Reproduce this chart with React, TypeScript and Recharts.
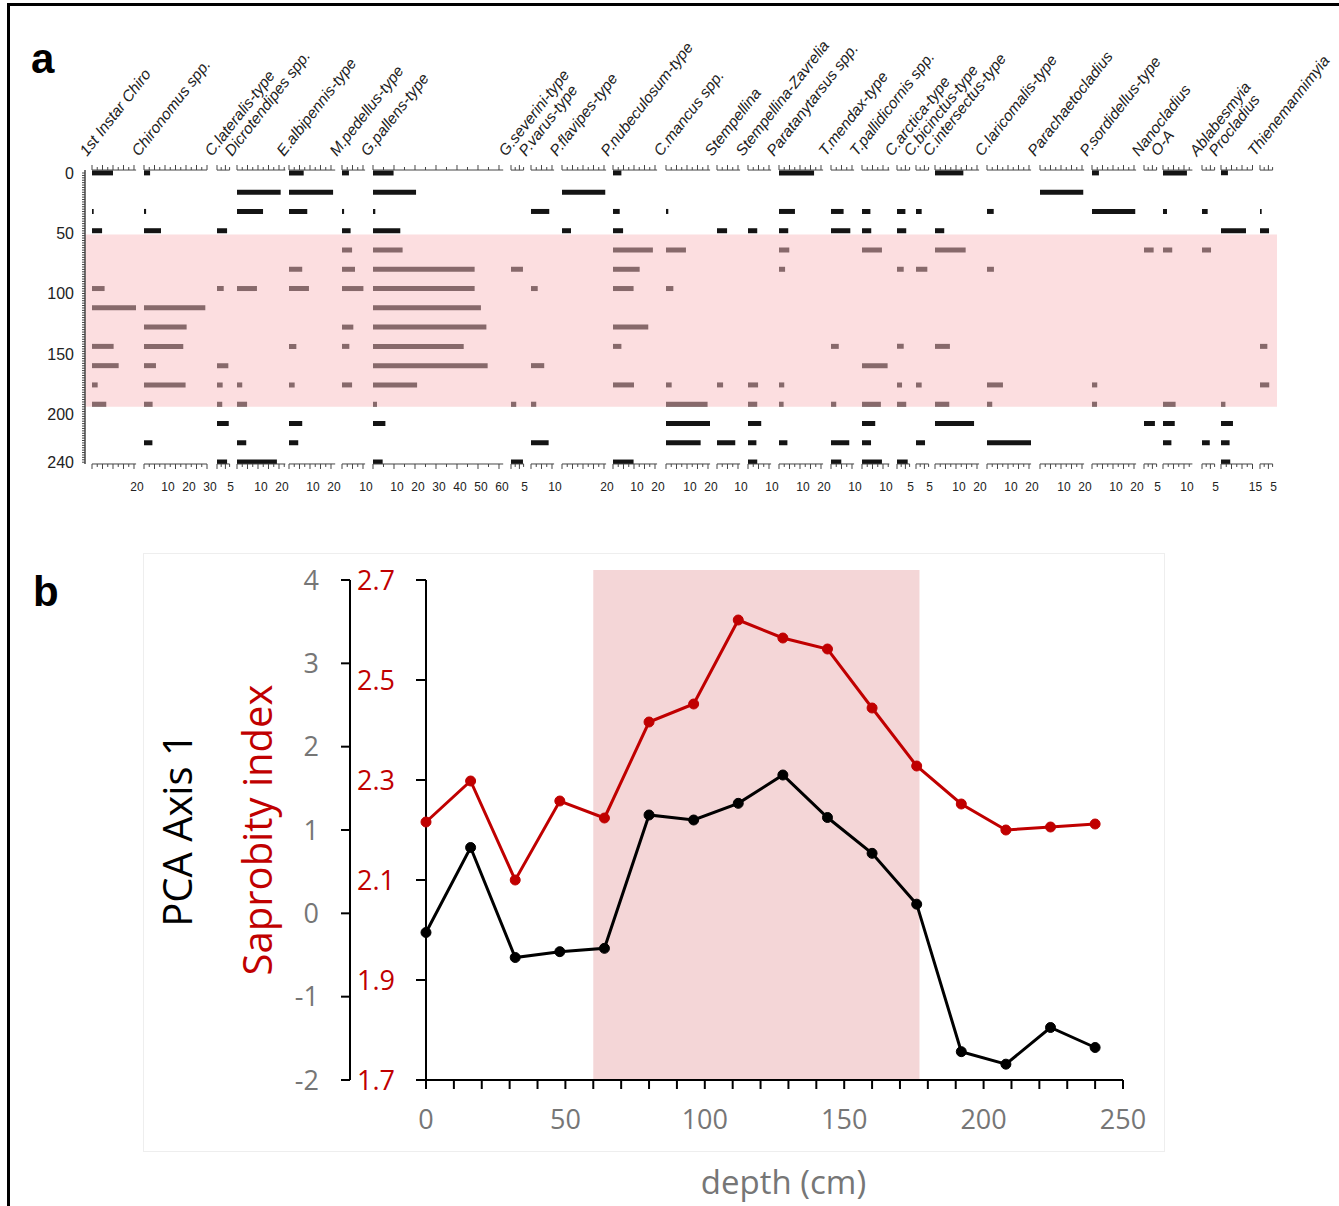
import { ComposedChart, Bar, XAxis, YAxis, ReferenceArea, LineChart, Line } from 'recharts'

const SANS = '"Liberation Sans", Arial, sans-serif'
const SOFT = '"Open Sans", "Noto Sans", sans-serif'
const RED = '#c00000'
const GRAY = '#767676'

// ---- panel a: chironomid stratigraphy (% abundance per sample depth) ----
const DEPTHS = [0, 16, 32, 48, 64, 80, 96, 112, 128, 144, 160, 176, 192, 208, 224, 240]

const firstInstarChiro = [10, 0, 0.8, 4.8, 0, 0, 6, 21, 0, 10.3, 12.7, 2.7, 6.8, 0, 0, 0]
const chironomus = [2.9, 0, 1, 8.1, 0, 0, 0, 29.2, 20.3, 18.7, 5.7, 19.8, 4.1, 0, 4, 0]
const cLateralis = [0, 0, 0, 4.8, 0, 0, 3.2, 0, 0, 0, 5.4, 2.7, 2.5, 5.6, 0, 4.8]
const dicrotendipes = [0, 20.8, 12.4, 0, 0, 0, 9.5, 0, 0, 0, 0, 2.5, 4.8, 0, 4.4, 19]
const eAlbipennis = [7, 21, 8.7, 0, 0, 6.3, 9.5, 0, 0, 3.5, 0, 2.7, 0, 6.3, 4.4, 0]
const mPedellus = [3.3, 0, 1, 4.1, 4.8, 6.2, 10.2, 0, 5.4, 3.5, 0, 4.8, 0, 0, 0, 0]
const gPallens = [9.8, 20.5, 1.1, 13, 14.1, 48.4, 48.4, 51.4, 54, 43.2, 54.6, 21, 1.9, 5.9, 0, 4.6]
const gSeverini = [0, 0, 0, 0, 0, 5.7, 0, 0, 0, 0, 0, 0, 2.5, 0, 0, 5.7]
const pVarus = [0, 0, 8.7, 0, 0, 0, 3.2, 0, 0, 0, 6.3, 0, 2.5, 0, 8.4, 0]
const pFlavipes = [0, 20.6, 0, 4.3, 0, 0, 0, 0, 0, 0, 0, 0, 0, 0, 0, 0]
const pNubeculosum = [4, 0, 3.2, 4.8, 19, 12.7, 9.8, 0, 16.8, 4, 0, 10, 0, 0, 0, 9.8]
const cMancus = [0, 0, 1.1, 0, 9.5, 0, 3.5, 0, 0, 0, 0, 2.7, 19.8, 21, 16.5, 0]
const stempellina = [0, 0, 0, 4.8, 0, 0, 0, 0, 0, 0, 0, 2.9, 0, 0, 8.7, 0]
const stempellinaZavrelia = [0, 0, 0, 4.4, 0, 0, 0, 0, 0, 0, 0, 4.8, 4.4, 6.3, 4, 4.4]
const paratanytarsus = [16.7, 0, 7.6, 4.4, 4.9, 2.9, 0, 0, 0, 0, 0, 2.5, 2.2, 0, 4, 0]
const tMendax = [0, 0, 6, 9.2, 0, 0, 0, 0, 0, 3.7, 0, 0, 2.5, 0, 8.7, 4.9]
const tPallidicornis = [0, 0, 4, 4.4, 9.5, 0, 0, 0, 0, 0, 12.2, 0, 9, 6.3, 4.3, 9.5]
const cArctica = [0, 0, 4, 4.4, 0, 3.2, 0, 0, 0, 3.2, 0, 2.4, 4.4, 0, 0, 5.1]
const cBicinctus = [0, 0, 2.7, 0, 0, 5.4, 0, 0, 0, 0, 0, 2.7, 0, 0, 4.3, 0]
const cIntersectus = [13.5, 0, 0, 4.4, 14.6, 0, 0, 0, 0, 7.1, 0, 0, 6.8, 18.6, 0, 0]
const cLaricomalis = [0, 0, 3.2, 0, 0, 3.3, 0, 0, 0, 0, 0, 7.6, 2.5, 0, 21.1, 0]
const parachaetocladius = [0, 20.6, 0, 0, 0, 0, 0, 0, 0, 0, 0, 0, 0, 0, 0, 0]
const pSordidellus = [3.3, 0, 20.6, 0, 0, 0, 0, 0, 0, 0, 0, 2.5, 2.4, 0, 0, 0]
const nanocladius = [0, 0, 0, 0, 4.6, 0, 0, 0, 0, 0, 0, 0, 0, 5.2, 0, 0]
const oA = [11.4, 0, 1.9, 0, 4.4, 0, 0, 0, 0, 0, 0, 0, 6, 5.6, 4, 0]
const ablabesmyia = [0, 0, 2.7, 0, 4.3, 0, 0, 0, 0, 0, 0, 0, 0, 0, 3.7, 0]
const procladius = [3.3, 0, 0, 11.9, 0, 0, 0, 0, 0, 0, 0, 0, 2.1, 5.7, 4.1, 4.4]
const thienemannimyia = [0, 0, 0.8, 4.3, 0, 0, 0, 0, 0, 3.5, 0, 4.4, 0, 0, 0, 0]

const TAXON_NAMES = [
  '1st Instar Chiro', 'Chironomus spp.', 'C.lateralis-type', 'Dicrotendipes spp.',
  'E.albipennis-type', 'M.pedellus-type', 'G.pallens-type', 'G.severini-type',
  'P.varus-type', 'P.flavipes-type', 'P.nubeculosum-type', 'C.mancus spp.',
  'Stempellina', 'Stempellina-Zavrelia', 'Paratanytarsus spp.', 'T.mendax-type',
  'T.pallidicornis spp.', 'C.arctica-type', 'C.bicinctus-type', 'C.intersectus-type',
  'C.laricomalis-type', 'Parachaetocladius', 'P.sordidellus-type', 'Nanocladius',
  'O-A', 'Ablabesmyia', 'Procladius', 'Thienemannimyia',
]
const TAXON_VALUES = [
  firstInstarChiro, chironomus, cLateralis, dicrotendipes, eAlbipennis, mPedellus,
  gPallens, gSeverini, pVarus, pFlavipes, pNubeculosum, cMancus, stempellina,
  stempellinaZavrelia, paratanytarsus, tMendax, tPallidicornis, cArctica, cBicinctus,
  cIntersectus, cLaricomalis, parachaetocladius, pSordidellus, nanocladius, oA,
  ablabesmyia, procladius, thienemannimyia,
]
// axis maximum (%) of each column and the tick labels printed under it
const TAXON_MAX = [21, 30, 6, 23, 22, 11, 62, 6, 11, 21, 21, 21, 11, 11, 21, 11, 13, 6, 6, 21, 21, 21, 21, 6, 14, 6, 15, 6]
const TAXON_TICK_LABELS = [
  [20], [10, 20, 30], [5], [10, 20], [10, 20], [10], [10, 20, 30, 40, 50, 60], [5],
  [10], [20], [10, 20], [10, 20], [10], [10], [10, 20], [10], [10], [5], [5],
  [10, 20], [10, 20], [10, 20], [10, 20], [5], [10], [5], [15], [5],
]
const DEPTH_TICK_LABELS = [0, 50, 100, 150, 200, 240]
const ZONE_A = [51, 194]

// ---- panel b: indices vs depth ----
const saprobityIndex = [2.216, 2.298, 2.1, 2.258, 2.224, 2.416, 2.452, 2.62, 2.584, 2.562, 2.444, 2.328, 2.252, 2.2, 2.206, 2.212]
const pcaAxis1 = [-0.23, 0.79, -0.53, -0.46, -0.42, 1.18, 1.12, 1.32, 1.66, 1.15, 0.72, 0.11, -1.66, -1.81, -1.37, -1.61]
const ZONE_B = [60, 177]
const SAP_TICKS = [1.7, 1.9, 2.1, 2.3, 2.5, 2.7]
const PCA_TICKS = [-2, -1, 0, 1, 2, 3, 4]

// layout of panel a
const COLUMN_LEFT = [91.7, 144, 217.3, 237.3, 289, 342, 373, 510.7, 530.7, 561.7, 613.3, 666, 717.3, 748.3, 779, 830.7, 861.7, 896.7, 916, 935, 987.3, 1040, 1092.3, 1144.3, 1163.3, 1201.7, 1220.7, 1260]
const PX_PER_PCT = 2.1
const PLOT_TOP = 170
const PLOT_H = 294
const DEPTH_DOMAIN: [number, number] = [-2.5, 241.5]

function TaxonColumn({ index }: { index: number }) {
  const max = TAXON_MAX[index]
  const labels = TAXON_TICK_LABELS[index]
  const name = TAXON_NAMES[index]
  const rows = DEPTHS.map((depth, i) => ({ depth, v: TAXON_VALUES[index][i] }))
  const step = max <= 8 ? 2 : max <= 30 ? 2.5 : 5
  const ticks: number[] = []
  for (let t = 0; t <= max + 1e-6; t += step) ticks.push(t)

  const topTick = (p: any) => {
    const v = p.payload.value
    const len = Math.round(v / step) % 2 === 0 ? 5 : 3
    return (
      <g>
        <line x1={p.x} x2={p.x} y1={p.y} y2={p.y - len} stroke="#444" strokeWidth={1} />
        {v === 0 && (
          <text
            x={p.x - 5}
            y={p.y - 13}
            transform={`rotate(-52, ${p.x - 5}, ${p.y - 13})`}
            fontSize={15.5}
            fontStyle="italic"
            fontFamily={SANS}
            fill="#222"
          >
            {name}
          </text>
        )}
      </g>
    )
  }
  const bottomTick = (p: any) => {
    const v = p.payload.value
    const len = Math.round(v / step) % 2 === 0 ? 5 : 3
    return <line x1={p.x} x2={p.x} y1={p.y} y2={p.y + len} stroke="#444" strokeWidth={1} />
  }
  const labelTick = (p: any) => (
    <text x={p.x + 3} y={p.y + 12} textAnchor="middle" fontSize={12} fontFamily={SANS} fill="#222">
      {p.payload.value}
    </text>
  )

  return (
    <div style={{ position: 'absolute', left: COLUMN_LEFT[index], top: PLOT_TOP - 8 }}>
      <ComposedChart
        layout="vertical"
        width={max * PX_PER_PCT + 2}
        height={PLOT_H + 8 + 30}
        data={rows}
        margin={{ top: 2, right: 2, bottom: 0, left: 0 }}
      >
        <XAxis xAxisId="top" orientation="top" type="number" domain={[0, max]} ticks={ticks}
          interval={0} height={6} tickSize={0} tickMargin={0} tickLine={false} tick={topTick}
          axisLine={{ stroke: '#444' }} allowDataOverflow />
        <XAxis xAxisId="bottom" orientation="bottom" type="number" domain={[0, max]} ticks={ticks}
          interval={0} height={15} tickSize={0} tickMargin={0} tickLine={false} tick={bottomTick}
          axisLine={{ stroke: '#444' }} allowDataOverflow />
        <XAxis xAxisId="labels" orientation="bottom" type="number" domain={[0, max]} ticks={labels}
          interval={0} height={15} tickSize={0} tickMargin={0} tickLine={false} tick={labelTick}
          axisLine={false} allowDataOverflow />
        <YAxis type="number" dataKey="depth" domain={DEPTH_DOMAIN} width={0}
          tick={false} tickLine={false} axisLine={{ stroke: '#444', strokeWidth: 1.5 }} allowDataOverflow />
        <Bar xAxisId="bottom" dataKey="v" barSize={5} fill="#141414" isAnimationActive={false} />
      </ComposedChart>
    </div>
  )
}

function DepthFrame() {
  const depthTicks: number[] = []
  for (let d = 0; d <= 240; d += 2) depthTicks.push(d)
  const rows = DEPTHS.map((depth) => ({ depth }))
  const tick = (p: any) =>
    DEPTH_TICK_LABELS.includes(p.payload.value) ? (
      <text x={p.x} y={p.y} dy="0.36em" textAnchor="end" fontSize={16} fontFamily={SANS} fill="#222">
        {p.payload.value}
      </text>
    ) : (
      <g />
    )
  return (
    <div style={{ position: 'absolute', left: 0, top: 0 }}>
      <ComposedChart width={1339} height={520} data={rows}
        margin={{ top: PLOT_TOP, right: 62, bottom: 520 - PLOT_TOP - PLOT_H, left: 0 }}>
        <XAxis type="number" dataKey="depth" hide domain={[0, 1]} />
        <YAxis type="number" domain={DEPTH_DOMAIN} reversed width={85} ticks={depthTicks} interval={0}
          tickSize={3} tickMargin={8} tick={tick} tickLine={{ stroke: '#444' }}
          axisLine={{ stroke: '#444', strokeWidth: 1.5 }} allowDataOverflow />
        <ReferenceArea y1={ZONE_A[0]} y2={ZONE_A[1]} fill="rgb(250,190,194)" fillOpacity={0.5}
          stroke="none" ifOverflow="visible" />
      </ComposedChart>
    </div>
  )
}

function IndexChart() {
  const rows = DEPTHS.map((depth, i) => ({ depth, sap: saprobityIndex[i], pca: pcaAxis1[i] }))
  const xTicks: number[] = []
  for (let t = 0; t <= 250; t += 10) xTicks.push(t)
  const xTick = (p: any) =>
    p.payload.value % 50 === 0 ? (
      <text x={p.x} y={p.y} dy="0.71em" textAnchor="middle" fontSize={27} fontFamily={SOFT} fill={GRAY}>
        {p.payload.value}
      </text>
    ) : (
      <g />
    )
  return (
    <div style={{ position: 'absolute', left: 150, top: 540 }}>
      <LineChart width={1010} height={640} data={rows} margin={{ top: 40, right: 37, bottom: 40, left: 0 }}>
        <XAxis type="number" dataKey="depth" domain={[0, 250]} ticks={xTicks} interval={0}
          height={60} tickSize={9} tickMargin={21} tick={xTick}
          tickLine={{ stroke: '#000', strokeWidth: 2 }} axisLine={{ stroke: '#000', strokeWidth: 2 }}
          label={(p: any) => {
            const vb = p.viewBox
            return (
              <text x={vb.x + vb.width / 2 + 9} y={vb.y + 114} textAnchor="middle" fontSize={33}
                fontFamily={SOFT} fill={GRAY}>
                depth (cm)
              </text>
            )
          }} />
        {/* saprobity axis sits next to the plot, PCA axis outside it */}
        <YAxis yAxisId="inner" domain={[1.7, 2.7]} ticks={SAP_TICKS} interval={0} width={76}
          tickSize={10} tickMargin={21} tick={{ fill: RED, fontSize: 27, fontFamily: SOFT }}
          tickLine={{ stroke: '#000', strokeWidth: 2 }} axisLine={{ stroke: '#000', strokeWidth: 2 }}
          label={(p: any) => {
            const vb = p.viewBox
            const cy = vb.y + vb.height / 2
            return (
              <text transform={`translate(${vb.x - 78}, ${cy}) rotate(-90)`} textAnchor="middle"
                fontSize={40} fontFamily={SOFT} fill={RED}>
                Saprobity index
              </text>
            )
          }} />
        <YAxis yAxisId="outer" domain={[-2, 4]} ticks={PCA_TICKS} interval={0} width={200}
          tickSize={9} tickMargin={22} tick={{ fill: GRAY, fontSize: 27, fontFamily: SOFT }}
          tickLine={{ stroke: '#000', strokeWidth: 2 }} axisLine={{ stroke: '#000', strokeWidth: 2 }}
          label={(p: any) => {
            const vb = p.viewBox
            const cy = vb.y + vb.height / 2
            return (
              <text transform={`translate(${vb.x + 42}, ${cy}) rotate(-90)`} textAnchor="middle"
                fontSize={40} fontFamily={SOFT} fill="#000">
                PCA Axis 1
              </text>
            )
          }} />
        <ReferenceArea yAxisId="outer" x1={ZONE_B[0]} x2={ZONE_B[1]} y1={-2} y2={4.12}
          fill="#f4d6d7" fillOpacity={1} stroke="none" ifOverflow="visible" />
        <Line yAxisId="outer" dataKey="pca" stroke="#000" strokeWidth={3}
          dot={{ r: 5, fill: '#000', stroke: '#000', strokeWidth: 1 }} isAnimationActive={false} />
        <Line yAxisId="inner" dataKey="sap" stroke={RED} strokeWidth={3}
          dot={{ r: 5, fill: RED, stroke: RED, strokeWidth: 1 }} isAnimationActive={false} />
      </LineChart>
    </div>
  )
}

export default function App() {
  return (
    <div style={{ position: 'absolute', left: 0, top: 0, width: 1339, height: 1206, background: '#fff', overflow: 'hidden' }}>
      <style>{`.recharts-surface, .recharts-wrapper { overflow: visible !important; }`}</style>
      <div style={{ position: 'absolute', left: 7, top: 3, width: 1340, height: 1210, borderLeft: '3px solid #000', borderTop: '3px solid #000' }} />
      <div style={{ position: 'absolute', left: 143, top: 553, width: 1020, height: 597, border: '1px solid #eee' }} />
      {TAXON_NAMES.map((_, i) => (
        <TaxonColumn key={i} index={i} />
      ))}
      <DepthFrame />
      <IndexChart />
      <div style={{ position: 'absolute', left: 31, top: 38, fontFamily: SANS, fontWeight: 'bold', fontSize: 42, lineHeight: 1 }}>a</div>
      <div style={{ position: 'absolute', left: 33, top: 571, fontFamily: SANS, fontWeight: 'bold', fontSize: 42, lineHeight: 1 }}>b</div>
    </div>
  )
}
